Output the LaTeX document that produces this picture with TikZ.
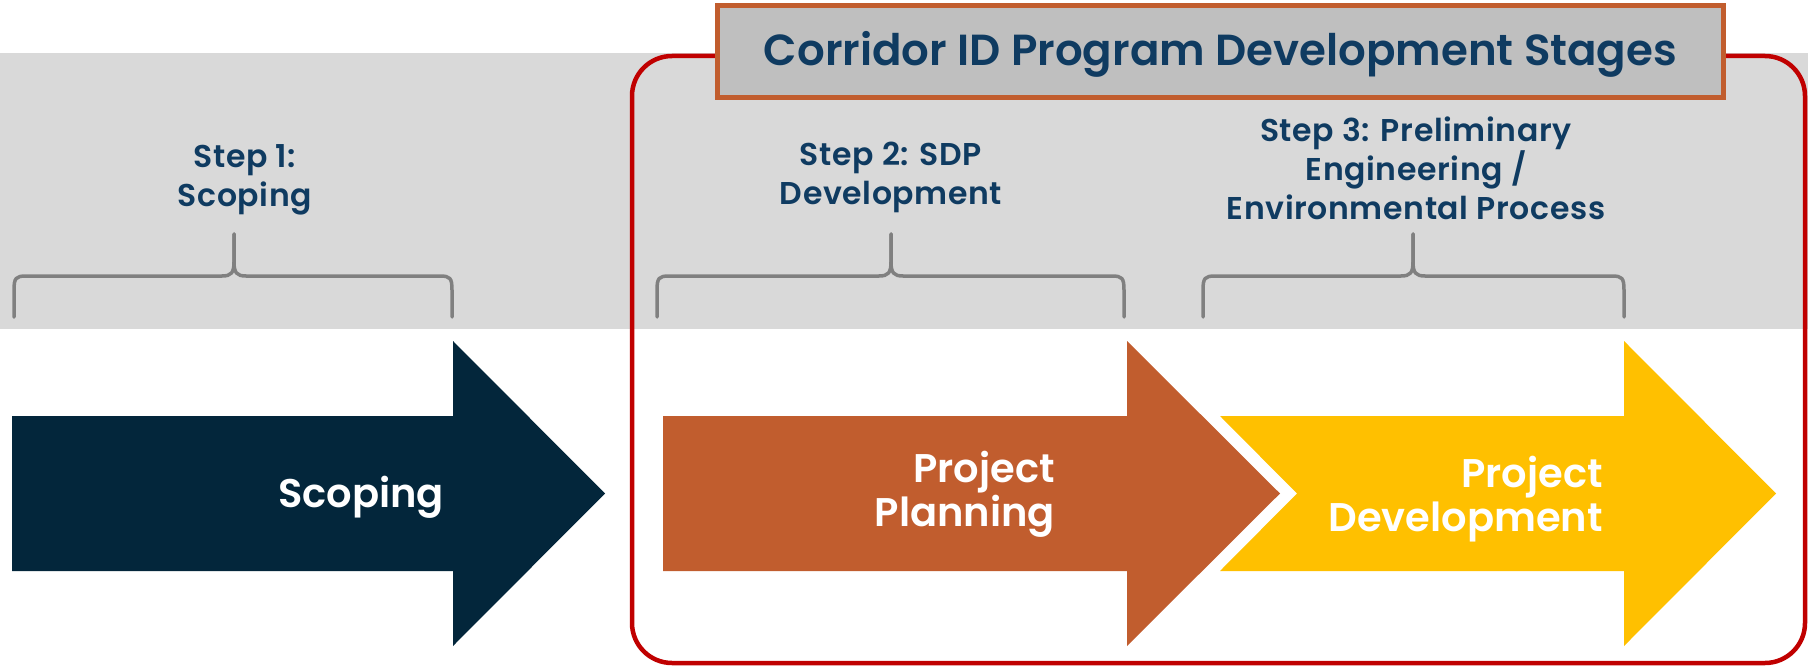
\documentclass[tikz,border=0pt]{standalone}
\usepackage{fontspec}
\setmainfont{Poppins}[BoldFont={Poppins SemiBold}]
\definecolor{navy}{HTML}{03263B}
\definecolor{rust}{HTML}{C15D2E}
\definecolor{gold}{HTML}{FFC000}
\definecolor{inkblue}{HTML}{0F3B61}
\definecolor{bandgray}{HTML}{D9D9D9}
\definecolor{titlegray}{HTML}{BFBFBF}
\definecolor{framered}{HTML}{C00000}
\definecolor{bracegray}{HTML}{808080}
\tikzset{
  stagelabel/.style={text=inkblue, font=\fontsize{31.5}{39}\selectfont\bfseries\addfontfeature{LetterSpace=2}, align=center, inner sep=0pt},
  arrowlabel/.style={text=white, font=\fontsize{40}{44}\selectfont\bfseries, align=right, inner sep=0pt, anchor=east},
  bracestyle/.style={draw=bracegray, line width=3.5pt, line cap=round},
  titlebox/.style={draw=rust, fill=titlegray, line width=5pt, inner sep=0pt,
    text=inkblue, font=\fontsize{43.5}{48}\selectfont\bfseries},
}
% curly bracket over a stage: left end, centre tip, right end
\newcommand\stagebrace[3]{%
  \draw[bracestyle] (#1,317) -- (#1,290) .. controls (#1,278) and ({#1+2},276) .. ({#1+12},276)
    -- ({#2-12},276) .. controls ({#2-3},276) and (#2,273) .. (#2,262) -- (#2,234);
  \draw[bracestyle] (#3,317) -- (#3,290) .. controls (#3,278) and ({#3-2},276) .. ({#3-12},276)
    -- ({#2+12},276) .. controls ({#2+3},276) and (#2,273) .. (#2,262) -- (#2,234);
}
\begin{document}
\begin{tikzpicture}[x=1pt,y=-1pt]
\useasboundingbox (0,0) rectangle (1808,666);
% grey band behind the step labels
\fill[bandgray] (0,53) rectangle (1808,329);
% frame round the program stages
\draw[framered, line width=4.5pt, rounded corners=40pt] (632,56) rectangle (1805,663);
% title
\node[titlebox, minimum width=1006pt, minimum height=92pt] (title) at (1220.5,51.5) {};
\node[text=inkblue, font=\fontsize{43.5}{48}\selectfont\bfseries, inner sep=0pt] (titletext) at (1220.5,54)
  {Corridor ID Program Development Stages};
% step labels
\node[stagelabel] (step1) at (245,180) {Step 1:\\Scoping};
\node[stagelabel] (step2) at (891,177) {Step 2: SDP\\Development};
\node[stagelabel] (step3) at (1416,168) {Step 3: Preliminary\\Engineering /\\Environmental Process};
% brackets
\stagebrace{14}{234}{452}
\stagebrace{657}{891}{1124}
\stagebrace{1203}{1413}{1624}
% stage arrows
\fill[gold] (1220,416) -- (1624,416) -- (1624,341) -- (1776,493.5) -- (1624,646)
  -- (1624,571) -- (1220,571) -- (1297,493.5) -- cycle;
\fill[navy] (12,416) -- (453,416) -- (453,341) -- (605,493.5) -- (453,646)
  -- (453,571) -- (12,571) -- cycle;
\fill[rust] (663,416) -- (1127,416) -- (1127,341) -- (1280,493.5) -- (1127,646)
  -- (1127,571) -- (663,571) -- cycle;
\node[arrowlabel] (scoping) at (444,497) {Scoping};
\node[arrowlabel] (planning) at (1055,494) {Project\\Planning};
\node[arrowlabel] (development) at (1603,499) {Project\\Development};
\end{tikzpicture}
\end{document}
